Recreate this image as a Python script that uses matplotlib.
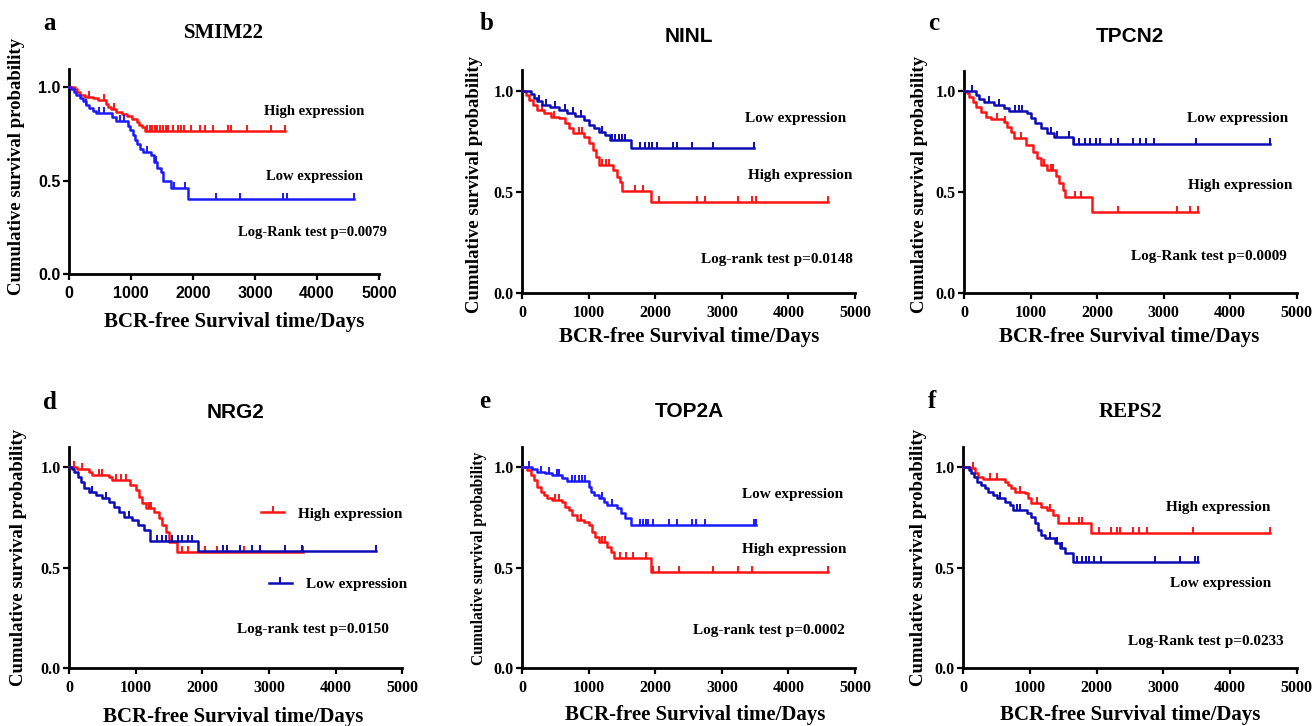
import numpy as np
import matplotlib
matplotlib.use('Agg')
import matplotlib.pyplot as plt
from matplotlib.lines import Line2D

# ---------------- data ----------------
panel_letters = ['a', 'b', 'c', 'd', 'e', 'f']
genes = ['SMIM22', 'NINL', 'TPCN2', 'NRG2', 'TOP2A', 'REPS2']
pvalue_texts = ['Log-Rank test p=0.0079', 'Log-rank test p=0.0148', 'Log-Rank test p=0.0009',
                'Log-rank test p=0.0150', 'Log-rank test p=0.0002', 'Log-Rank test p=0.0233']
x_ticks = [0, 1000, 2000, 3000, 4000, 5000]
y_ticks = [0.0, 0.5, 1.0]
y_ticklabels = ['0.0', '0.5', '1.0']

# panel a  SMIM22
a_high_t = [90, 130, 170, 260, 380, 470, 600, 630, 680, 760, 860, 940, 1010, 1090, 1130, 1180, 1220]
a_high_s = [0.99, 0.975, 0.96, 0.95, 0.94, 0.93, 0.91, 0.895, 0.885, 0.87, 0.855, 0.845, 0.83, 0.815, 0.80, 0.785, 0.765]
a_high_c = [330, 560, 720, 1260, 1300, 1340, 1380, 1420, 1470, 1520, 1560, 1600, 1680, 1760, 1810, 1860,
            1970, 2110, 2200, 2330, 2560, 2620, 2870, 3250, 3490]
a_low_t = [40, 80, 120, 170, 220, 270, 330, 380, 440, 700, 760, 950, 990, 1030, 1060, 1100, 1150, 1200,
           1320, 1370, 1420, 1480, 1510, 1640, 1920]
a_low_s = [0.99, 0.975, 0.96, 0.94, 0.925, 0.905, 0.89, 0.875, 0.862, 0.84, 0.818, 0.79, 0.77, 0.745, 0.72,
           0.695, 0.67, 0.655, 0.635, 0.60, 0.565, 0.545, 0.50, 0.46, 0.40]
a_low_c = [280, 480, 560, 820, 880, 1250, 1400, 1690, 1870, 2370, 2750, 3450, 3520, 4600]

# panel b  NINL
b_high_t = [60, 110, 160, 230, 330, 430, 560, 640, 710, 770, 930, 1010, 1060, 1110, 1160, 1360, 1420, 1470, 1500, 1930]
b_high_s = [0.98, 0.955, 0.93, 0.905, 0.888, 0.872, 0.863, 0.838, 0.814, 0.789, 0.772, 0.74, 0.707, 0.673,
            0.632, 0.607, 0.575, 0.55, 0.505, 0.45]
b_high_c = [300, 480, 860, 900, 1200, 1260, 1310, 1700, 1820, 2050, 2620, 2750, 3250, 3450, 3510, 4600]
b_low_t = [130, 180, 230, 300, 420, 560, 680, 800, 930, 1010, 1080, 1160, 1240, 1320, 1630]
b_low_s = [0.985, 0.965, 0.948, 0.93, 0.92, 0.905, 0.89, 0.873, 0.856, 0.83, 0.815, 0.798, 0.78, 0.755, 0.714]
b_low_c = [250, 360, 500, 640, 760, 880, 1200, 1350, 1400, 1450, 1500, 1550, 1770, 1850, 1900, 1950, 2030,
           2270, 2330, 2550, 2860, 3480]

# panel c  TPCN2
c_high_t = [50, 80, 130, 180, 250, 330, 400, 600, 650, 700, 750, 930, 1030, 1100, 1150, 1250, 1380, 1430, 1480, 1510, 1930]
c_high_s = [0.99, 0.972, 0.947, 0.922, 0.897, 0.873, 0.862, 0.848, 0.823, 0.798, 0.765, 0.732, 0.70, 0.667,
            0.634, 0.61, 0.577, 0.544, 0.511, 0.476, 0.398]
c_high_c = [500, 620, 850, 1200, 1300, 1330, 1660, 1760, 2310, 3200, 3390, 3520]
c_low_t = [180, 230, 300, 450, 600, 680, 950, 1000, 1070, 1150, 1250, 1350, 1630]
c_low_s = [0.98, 0.962, 0.947, 0.931, 0.914, 0.901, 0.889, 0.865, 0.84, 0.815, 0.79, 0.773, 0.736]
c_low_c = [120, 380, 520, 760, 820, 870, 1300, 1400, 1570, 1650, 1730, 1820, 1890, 1980, 2040, 2210, 2320,
           2540, 2640, 2740, 2850, 3490, 4600]

# panel d  NRG2
d_high_t = [120, 300, 350, 600, 650, 920, 1000, 1050, 1100, 1150, 1270, 1350, 1400, 1450, 1500, 1620]
d_high_s = [0.993, 0.978, 0.962, 0.953, 0.937, 0.912, 0.887, 0.854, 0.821, 0.796, 0.779, 0.746, 0.713, 0.68, 0.63, 0.578]
d_high_c = [80, 200, 450, 500, 700, 780, 850, 1200, 1230, 1540, 1690, 1790, 2040, 2220, 2620, 3510]
d_low_t = [40, 80, 130, 180, 230, 300, 400, 500, 600, 680, 750, 830, 950, 1030, 1130, 1210, 1930]
d_low_s = [0.99, 0.975, 0.953, 0.928, 0.895, 0.879, 0.862, 0.846, 0.829, 0.804, 0.779, 0.754, 0.738, 0.713,
           0.688, 0.632, 0.585]
d_low_c = [350, 550, 900, 1320, 1390, 1450, 1540, 1640, 1690, 1790, 1840, 2310, 2370, 2560, 2740, 2870,
           3240, 3490, 4600]

# panel e  TOP2A
e_high_t = [80, 130, 180, 230, 280, 330, 380, 450, 600, 650, 700, 750, 830, 930, 1000, 1050, 1100, 1150,
            1280, 1330, 1380, 1930]
e_high_s = [0.984, 0.96, 0.935, 0.902, 0.877, 0.86, 0.844, 0.836, 0.827, 0.802, 0.786, 0.761, 0.737, 0.728,
            0.712, 0.679, 0.654, 0.629, 0.604, 0.579, 0.546, 0.48]
e_high_c = [500, 550, 880, 1200, 1250, 1470, 1560, 1670, 1860, 1970, 2050, 2360, 2860, 3250, 3450, 4600]
e_low_t = [150, 230, 350, 450, 600, 680, 1000, 1030, 1080, 1150, 1230, 1280, 1430, 1480, 1550, 1630]
e_low_s = [0.99, 0.977, 0.968, 0.96, 0.944, 0.932, 0.902, 0.877, 0.86, 0.844, 0.827, 0.811, 0.795, 0.77, 0.745, 0.712]
e_low_c = [100, 280, 400, 520, 560, 750, 800, 850, 900, 950, 1200, 1350, 1770, 1820, 1860, 1890, 1960,
           2210, 2320, 2550, 2610, 2750, 3480, 3520]

# panel f  REPS2
f_high_t = [100, 175, 225, 300, 620, 670, 720, 770, 920, 970, 1020, 1170, 1250, 1350, 1420, 1920]
f_high_s = [0.993, 0.968, 0.952, 0.94, 0.927, 0.911, 0.894, 0.877, 0.869, 0.844, 0.82, 0.803, 0.787, 0.762, 0.72, 0.67]
f_high_c = [150, 400, 500, 850, 1100, 1300, 1580, 1730, 1780, 2030, 2210, 2310, 2350, 2550, 2630, 2750, 3450, 4600]
f_low_t = [80, 120, 160, 200, 270, 320, 370, 440, 500, 620, 700, 750, 950, 1020, 1070, 1120, 1170, 1220,
           1370, 1450, 1520, 1650]
f_low_s = [0.985, 0.97, 0.952, 0.927, 0.911, 0.894, 0.877, 0.861, 0.844, 0.828, 0.811, 0.787, 0.77, 0.753,
           0.72, 0.687, 0.662, 0.646, 0.621, 0.596, 0.571, 0.528]
f_low_c = [550, 800, 850, 1300, 1400, 1480, 1700, 1780, 1840, 1890, 1960, 2060, 2870, 3250, 3480, 3525]

# ---------------- styling ----------------
RED = '#ff1414'
BLUE_BRIGHT = '#1a1aff'
BLUE_DARK = '#0c0cb4'
SERIF = 'Liberation Serif'
SANS = 'Liberation Sans'
LW = 1.8

W, H = 1312, 726
fig = plt.figure(figsize=(W / 100, H / 100), dpi=100)

panels = [
    dict(rect=[0.0526, 0.6226, 0.2363, 0.2829], high=(a_high_t, a_high_s, a_high_c), low=(a_low_t, a_low_s, a_low_c),
         blue=BLUE_BRIGHT, tickfont=SANS, ticksize=11.5, titlefont=SERIF, ylab_size=13.5,
         ylab=(-0.142, 0.521), xlab=(0.534, -0.185), title=(0.499, 1.173), letter=(43, 30),
         high_txt=(3145, 0.868), low_txt=(3172, 0.521), p_txt=(2731, 0.223), ann=10.5),
    dict(rect=[0.3979, 0.5968, 0.2538, 0.3061], high=(b_high_t, b_high_s, b_high_c), low=(b_low_t, b_low_s, b_low_c),
         blue=BLUE_DARK, tickfont=SERIF, ticksize=11.5, titlefont=SANS, ylab_size=13.5,
         ylab=(-0.118, 0.485), xlab=(0.502, -0.155), title=(0.502, 1.155), letter=(480, 30),
         high_txt=(3389, 0.578), low_txt=(3353, 0.863), p_txt=(2688, 0.165), ann=11),
    dict(rect=[0.7348, 0.5968, 0.2536, 0.3056], high=(c_high_t, c_high_s, c_high_c), low=(c_low_t, c_low_s, c_low_c),
         blue=BLUE_DARK, tickfont=SERIF, ticksize=11.5, titlefont=SANS, ylab_size=13.5,
         ylab=(-0.107, 0.487), xlab=(0.497, -0.155), title=(0.5, 1.157), letter=(928, 30),
         high_txt=(3362, 0.53), low_txt=(3357, 0.865), p_txt=(2505, 0.178), ann=11),
    dict(rect=[0.0526, 0.0795, 0.2540, 0.3045], high=(d_high_t, d_high_s, d_high_c), low=(d_low_t, d_low_s, d_low_c),
         blue=BLUE_DARK, tickfont=SERIF, ticksize=11.5, titlefont=SANS, ylab_size=13.5,
         ylab=(-0.127, 0.499), xlab=(0.494, -0.175), title=(0.499, 1.159), letter=(43, 409),
         high_txt=None, low_txt=None, p_txt=(2515, 0.194), ann=11),
    dict(rect=[0.3979, 0.0795, 0.2538, 0.3050], high=(e_high_t, e_high_s, e_high_c), low=(e_low_t, e_low_s, e_low_c),
         blue=BLUE_BRIGHT, tickfont=SERIF, ticksize=11.5, titlefont=SANS, ylab_size=11.2,
         ylab=(-0.106, 0.497), xlab=(0.519, -0.168), title=(0.502, 1.158), letter=(479, 408),
         high_txt=(3303, 0.588), low_txt=(3303, 0.864), p_txt=(2572, 0.19), ann=11),
    dict(rect=[0.7342, 0.0795, 0.2541, 0.3050], high=(f_high_t, f_high_s, f_high_c), low=(f_low_t, f_low_s, f_low_c),
         blue=BLUE_DARK, tickfont=SERIF, ticksize=11.5, titlefont=SERIF, ylab_size=13.5,
         ylab=(-0.11, 0.5), xlab=(0.5, -0.168), title=(0.5, 1.158), letter=(928, 408),
         high_txt=(3036, 0.798), low_txt=(3100, 0.419), p_txt=(2475, 0.132), ann=11),
]


def km(ax, t, s, cens, color, z):
    t = np.asarray(t, float)
    s = np.asarray(s, float)
    c = np.asarray(cens, float)
    end = max(c.max(), t.max())
    x = np.concatenate([[0.0], t, [end]])
    y = np.concatenate([[1.0], s, [s[-1]]])
    ax.step(x, y, where='post', color=color, lw=LW, clip_on=False, zorder=z)
    idx = np.searchsorted(t, c, side='right')
    yc = np.concatenate([[1.0], s])[idx]
    ax.plot(c, yc, linestyle='none', marker=2, ms=4.5, mew=1.4, color=color, clip_on=False, zorder=z)


for i, p in enumerate(panels):
    ax = fig.add_axes(p['rect'])
    ax.set_xlim(0, 5000)
    ax.set_ylim(0, 1.1)
    for side in ('top', 'right'):
        ax.spines[side].set_visible(False)
    for side in ('left', 'bottom'):
        ax.spines[side].set_linewidth(2.0)
    ax.set_xticks(x_ticks)
    ax.set_xticklabels([str(v) for v in x_ticks])
    ax.set_yticks(y_ticks)
    ax.set_yticklabels(y_ticklabels)
    ax.tick_params(direction='out', length=4.5, width=1.6, labelsize=p['ticksize'], pad=1.5)
    ax.tick_params(axis='x', pad=4)
    for lbl in ax.get_xticklabels() + ax.get_yticklabels():
        lbl.set_fontfamily(p['tickfont'])
        lbl.set_fontweight('bold')

    # curves
    km(ax, *p['high'], RED, 3)
    km(ax, *p['low'], p['blue'], 4)

    ax.set_xlabel('BCR-free Survival time/Days', fontfamily=SERIF, fontweight='bold', fontsize=15)
    ax.xaxis.set_label_coords(*p['xlab'])
    ax.set_ylabel('Cumulative survival probability', fontfamily=SERIF, fontweight='bold', fontsize=p['ylab_size'])
    ax.yaxis.set_label_coords(*p['ylab'])

    ax.text(p['title'][0], p['title'][1], genes[i], transform=ax.transAxes, ha='center', va='center',
            fontfamily=p['titlefont'], fontweight='bold', fontsize=15)

    tk = dict(fontfamily=SERIF, fontweight='bold', fontsize=p['ann'], ha='left', va='center')
    if p['high_txt'] is not None:
        ax.text(p['high_txt'][0], p['high_txt'][1], 'High expression', **tk)
        ax.text(p['low_txt'][0], p['low_txt'][1], 'Low expression', **tk)
    ax.text(p['p_txt'][0], p['p_txt'][1], pvalue_texts[i], **tk)

    if panel_letters[i] == 'd':
        prop = dict(family=SERIF, weight='bold', size=11)
        h1 = Line2D([], [], color=RED, lw=LW, marker=2, ms=4.5, mew=1.4)
        h2 = Line2D([], [], color=p['blue'], lw=LW, marker=2, ms=4.5, mew=1.4)
        common = dict(loc='center left', frameon=False, prop=prop, handlelength=1.52, handletextpad=0.9,
                      borderpad=0, borderaxespad=0, numpoints=1)
        leg1 = ax.legend([h1], ['High expression'], bbox_to_anchor=(0.576, 0.698), **common)
        ax.add_artist(leg1)
        ax.legend([h2], ['Low expression'], bbox_to_anchor=(0.599, 0.38), **common)

    fig.text(p['letter'][0] / W, 1 - p['letter'][1] / H, panel_letters[i], ha='left', va='baseline',
             fontfamily=SERIF, fontweight='bold', fontsize=18)

fig.savefig('out.png', dpi=100)
